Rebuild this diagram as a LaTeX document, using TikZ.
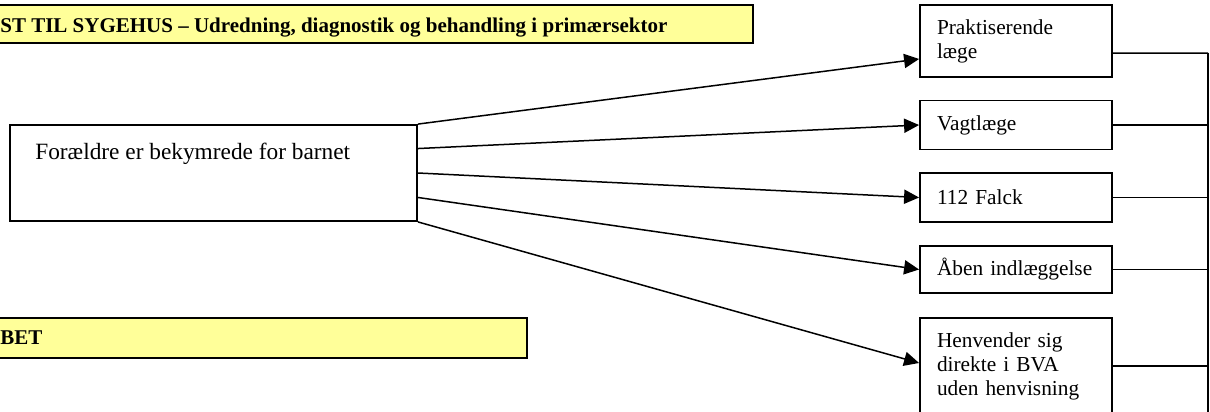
\documentclass[tikz,border=0pt]{standalone}
\usepackage{fontspec}
\setmainfont{Liberation Serif}
\usepackage{tikz}
\usetikzlibrary{
  arrows.meta,
  calc,
  positioning
}
\usepackage{xcolor}
\definecolor{hdrfill}{RGB}{255, 255, 153}
\definecolor{linieclr}{RGB}{0, 0, 0}
\tikzset{
  % Gule overskriftsbokse
  hdrbox/.style   = {draw=linieclr, fill=hdrfill, line width=1.2pt},
  hdrtxt/.style   = {font=\fontsize{12.6}{14}\selectfont\bfseries, anchor=base west, inner sep=0pt},
  % Bokse
  hovedboks/.style = {draw=linieclr, line width=1.1pt, minimum width=244.2pt, minimum height=57.6pt},
  kontakt/.style   = {draw=linieclr, line width=1.1pt, text width=94.8pt, inner xsep=10.2pt,
                      inner ysep=0pt, align=left, font=\fontsize{12.8}{14.4}\selectfont},
  % Pile og forbindelser
  pil/.style      = {-{Triangle[length=9pt,width=8.5pt]}, line width=0.9pt, linieclr},
  forb/.style     = {line width=0.9pt, linieclr},
}
\begin{document}
\begin{tikzpicture}[x=0.6pt,y=-0.6pt]
  \useasboundingbox (0,0) rectangle (1210,412);
  % Overskrifter
  \draw[hdrbox] (-10,5) rectangle (753,43);
  \node[hdrtxt] (hdrA) at (0,32) {ST TIL SYGEHUS – Udredning, diagnostik og behandling i primærsektor};
  \draw[hdrbox] (-10,318) rectangle (527,358);
  \node[hdrtxt] (hdrB) at (0,344) {BET};
  % Forældre
  \node[hovedboks] (main) at (213.5,173) {};
  \node[anchor=base west, inner sep=0pt, font=\fontsize{14}{16}\selectfont] (maintxt) at (35,159) {Forældre er bekymrede for barnet};
  % Kontaktmuligheder
  \node[kontakt, minimum height=43.2pt] (prak) at (1016,41) {Praktiserende\\læge};
  \node[kontakt, minimum height=29.4pt] (vagt) at (1016,125) {Vagtlæge};
  \node[kontakt, minimum height=29.4pt] (falck) at (1016,197.5) {112 Falck};
  \node[kontakt, minimum height=28.2pt] (aaben) at (1016,269.5) {Åben indlæggelse};
  \node[kontakt, minimum height=57.6pt] (henv) at (1016,366) {Henvender sig\\direkte i BVA\\uden henvisning};
  % Pile fra forældre
  \draw[pil] (main.north east) -- ([yshift=-10.8pt]prak.west);
  \draw[pil] ($(main.north east)!.25!(main.south east)$) -- (vagt.west);
  \draw[pil] ($(main.north east)!.5!(main.south east)$) -- (falck.west);
  \draw[pil] ($(main.north east)!.75!(main.south east)$) -- (aaben.west);
  \draw[pil] (main.south east) -- ([yshift=1.8pt]henv.west);
  % Samleskinne til højre
  \coordinate (bustop) at (1208,53);
  \coordinate (busend) at (1208,420);
  \draw[forb] (bustop) -- (busend);
  \draw[forb] ([yshift=-7.2pt]prak.east) -- (bustop);
  \foreach \b in {vagt,falck,aaben,henv}
    \draw[forb] (\b.east) -- (\b.east -| bustop);
\end{tikzpicture}
\end{document}
